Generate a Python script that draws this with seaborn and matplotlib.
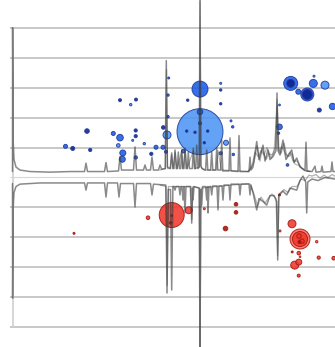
import numpy as np
import pandas as pd
import matplotlib
matplotlib.use("Agg")
import matplotlib.pyplot as plt
import seaborn as sns

# ---------------- data ----------------
# upper (positive) spectrum trace
top_x = [12.5, 12.6, 13.2, 14, 16, 20, 30, 50, 70, 84.5, 86, 87.5, 104.5, 106, 107.5, 118.5, 120, 121.5,
         133.5, 135, 136.5, 143.5, 145, 146.5, 150.5, 152, 153.5, 158.5, 160, 161.5, 165.2, 166.3, 167.4,
         170.5, 171.7, 173, 174, 175, 176.3, 177.3, 178.3, 179.5, 180.7, 181.7, 182.8, 184, 185, 186.2,
         187.3, 188.3, 189.5, 192.3, 193.3, 194.5, 195.7, 196.7, 198, 199.2, 200, 200.8, 202, 205.6, 206.7,
         207.8, 210.6, 211.7, 212.8, 215.6, 216.7, 217.8, 220.6, 221.7, 222.8, 229, 230, 231, 238, 239, 240,
         249, 250, 251, 253, 256.7, 259, 263, 265, 268, 270, 273, 276, 277, 278, 280, 283, 286, 291.7, 294,
         296.7, 300, 305, 306, 307, 312, 315, 316, 321, 322, 323, 331, 332, 333, 335]
top_y = [0.2, 5.0, 1.2, 0.6, 0.35, 0.25, 0.2, 0.18, 0.2, 0.2, 0.48, 0.2, 0.2, 0.5, 0.2, 0.22, 0.7, 0.25,
         0.25, 1.02, 0.25, 0.25, 0.42, 0.25, 0.25, 0.68, 0.25, 0.25, 0.42, 0.28, 0.3, 3.9, 0.35,
         0.3, 0.82, 0.3, 0.3, 0.92, 0.3, 0.3, 0.85, 0.3, 0.3, 0.92, 0.3, 0.3, 0.98, 0.3,
         0.3, 0.85, 0.3, 0.3, 0.98, 0.3, 0.3, 1.08, 0.3, 0.35, 5.9, 0.4, 0.3, 0.25, 0.92,
         0.25, 0.25, 0.85, 0.25, 0.25, 0.98, 0.25, 0.25, 1.25, 0.22, 0.22, 1.32, 0.22, 0.2, 1.4, 0.2,
         0.2, 0.68, 0.25, 0.35, 1.2, 0.6, 1.08, 0.55, 0.92, 0.6, 0.7, 0.9, 2.82, 0.9, 0.75, 1.25, 0.6, 0.92, 0.5,
         0.65, 0.35, 0.25, 1.18, 0.22, 0.2, 0.38, 0.18, 0.2, 0.38, 0.18, 0.2, 0.52, 0.2, 0.2]
# replicate traces (upper)
top2_x = [160, 165.5, 166.5, 167.5, 170, 171.5, 173, 175.2, 177, 181.5, 183, 185.3, 187, 193.5, 195, 199.3, 200.1, 201, 204,
          216.5, 218, 221.5, 223, 248, 250, 254, 257, 260, 262, 266, 269, 272, 275.5, 277, 278.5, 281, 284, 287,
          290, 293, 297, 302, 305, 310]
top2_y = [0.25, 0.3, 3.6, 0.3, 0.3, 0.75, 0.3, 0.85, 0.3, 0.85, 0.3, 0.9, 0.3, 0.9, 0.3, 0.35, 5.9, 0.35, 0.25,
          0.25, 0.9, 0.25, 0.25, 0.2, 0.25, 0.5, 1.05, 0.55, 0.95, 0.6, 0.8, 0.75, 1.0, 2.6, 1.0, 0.8, 1.15, 0.7,
          0.85, 0.55, 0.55, 0.3, 0.22, 0.2]
top3_x = [248, 252, 255, 258, 261, 264, 267, 271, 274, 277.3, 279, 282, 285, 289, 292, 295, 299, 304, 310]
top3_y = [0.2, 0.4, 0.85, 0.7, 0.9, 0.75, 1.0, 0.65, 0.85, 2.4, 0.85, 1.05, 0.8, 0.7, 0.8, 0.45, 0.4, 0.25, 0.2]

# lower (mirrored) spectrum trace
bot_x = [12.5, 12.6, 13.2, 14, 16, 20, 40, 84.5, 86, 87.5, 104.5, 106, 107.5, 117.5, 119, 120.5, 133.5, 135,
         136.5, 150.5, 152, 153.5, 165.8, 167, 168.2, 170.5, 171.7, 172.9, 174, 175, 176, 179, 180, 181, 182,
         183, 184, 185, 186, 190.7, 191.7, 192.5, 193, 194, 199.2, 200, 200.8, 201.7, 202.7, 205.7, 206.7,
         207.5, 208, 209, 210.7, 211.7, 212.7, 217, 218, 219, 222, 223, 224, 229, 230, 231, 239, 240, 241,
         249, 250, 251, 253, 256.7, 259, 263, 266.7, 270, 274, 276.7, 277.7, 278.7, 283, 286.7, 290, 296.7,
         300, 303, 305.7, 306.7, 307.7, 312, 318, 325, 335]
bot_y = [-0.2, -4.02, -1.0, -0.5, -0.3, -0.22, -0.18, -0.18, -0.42, -0.18, -0.18, -0.65, -0.18, -0.18, -0.65, -0.2, -0.2, -0.98,
         -0.2, -0.2, -0.58, -0.22, -0.25, -3.85, -0.4, -0.4, -3.75, -0.3, -0.3, -0.42, -0.3, -0.3, -0.58, -0.3, -0.3,
         -0.75, -0.3, -1.18, -0.3, -0.3, -1.52, -0.35, -0.75, -0.3, -0.35, -5.8, -0.4, -0.92, -0.3, -0.3, -0.75,
         -0.3, -1.18, -0.3, -0.3, -0.58, -0.28, -0.28, -1.08, -0.28, -0.28, -0.75, -0.25, -0.25, -0.75, -0.22, -0.22, -0.58, -0.22,
         -0.22, -0.58, -0.25, -0.5, -1.08, -0.7, -0.8, -0.92, -0.6, -0.6, -0.8, -2.75, -0.6, -0.45, -0.58, -0.35, -0.42,
         -0.1, 0.05, -0.15, -1.18, -0.15, -0.05, -0.1, 0.0, -0.05]
bot2_x = [160, 166, 167.2, 168.4, 190, 191.9, 193, 199.3, 200.1, 201, 248, 250, 254, 257.5, 261, 265, 268, 272, 276,
          277.7, 279, 284, 288, 292, 297, 301, 305, 309, 312, 316, 320, 324, 328, 332, 335]
bot2_y = [-0.25, -0.3, -3.6, -0.3, -0.3, -1.4, -0.3, -0.35, -5.8, -0.35, -0.2, -0.22, -0.55, -0.95, -0.65, -0.85, -0.7,
          -0.55, -0.7, -2.6, -0.55, -0.4, -0.5, -0.3, -0.3, -0.05, -0.1, 0.08, 0.05, 0.1, -0.02, 0.08, 0.0, 0.1, 0.05]

# upper bubbles (blue)
blue_x = [120, 130.7, 136, 87, 113.3, 120, 135.7, 135.7, 132.7, 118.3, 144.3, 156, 163, 65.5, 72.7, 90.2,
          122.8, 122.3, 135.8, 151.3, 163.3, 167, 166, 168.7, 168, 168, 200, 200, 200, 200, 186.7, 195,
          207.7, 204.3, 220.7, 220.7, 187.7, 220.7, 231, 232.7, 226, 220.7, 183.3, 233.3,
          290.7, 290.7, 307.3, 307.3, 313.3, 325, 298.3, 314, 319.3, 332.5, 279.5, 279.5, 287.5, 278.5]
blue_y = [2.58, 2.43, 2.6, 1.55, 1.47, 1.33, 1.57, 1.38, 1.24, 1.07, 1.13, 1.01, 1.01, 1.04, 0.97, 0.92,
          0.82, 0.61, 0.67, 0.79, 1.67, 1.42, 0.86, 3.32, 2.75, 2.03, 2.95, 2.19, 1.53, 1.81, 1.55, 1.51,
          1.55, 1.16, 3.14, 2.92, 2.58, 2.46, 1.89, 1.69, 1.16, 0.81, 0.88, 0.77,
          3.14, 3.14, 2.77, 2.77, 3.14, 3.08, 2.86, 3.38, 2.25, 2.37, 1.69, 2.42, 0.42, 1.48]
blue_r = [1.5, 1.2, 1.5, 2.3, 2.0, 3.3, 1.6, 1.6, 1.0, 1.8, 1.2, 2.0, 2.0, 2.0, 2.0, 1.6,
          3.0, 3.0, 1.6, 1.6, 1.8, 4.0, 1.5, 1.0, 1.2, 1.2, 8.0, 2.8, 23.0, 1.5, 1.2, 1.2,
          1.2, 1.2, 1.0, 1.2, 1.2, 1.2, 1.0, 1.2, 2.5, 1.6, 1.8, 1.2,
          7.0, 4.0, 6.5, 5.0, 4.0, 4.0, 2.5, 1.0, 2.0, 3.2, 2.8, 0.9, 1.3, 1.2]
blue_cat = ["dark", "light", "dark", "dark", "mid", "mid", "dark", "dark", "light", "light", "light", "mid", "mid", "mid", "dark", "dark",
            "mid", "mid", "mid", "dark", "dark", "light", "mid", "mid", "mid", "mid", "mid", "mid", "light", "mid", "dark", "dark",
            "dark", "dark", "light", "dark", "dark", "dark", "mid", "mid", "light", "mid", "mid", "mid",
            "mid", "dark", "mid", "dark", "mid", "light", "mid", "light", "dark", "mid", "mid", "light", "mid", "mid"]

# lower bubbles (red)
red_x = [171.7, 171.7, 170.7, 188.8, 148, 204.3, 236, 236, 225.5, 74, 292, 300, 300, 299, 302, 299.5,
         292.2, 298.8, 300, 294.7, 298.8, 298.7, 318.7, 316.7, 333.7, 280, 279.5]
red_y = [-1.25, -1.27, -1.51, -1.09, -1.34, -1.04, -0.89, -1.16, -1.70, -1.86, -1.54, -2.05, -2.05, -1.95, -2.12, -2.15,
         -2.48, -2.52, -2.64, -2.92, -2.82, -3.27, -2.67, -2.14, -2.69, -1.78, -0.58]
red_r = [12.5, 1.0, 1.3, 3.5, 1.8, 1.0, 1.8, 1.8, 2.3, 1.0, 4.0, 10.0, 7.5, 2.2, 2.2, 1.6,
         1.0, 1.8, 0.8, 4.0, 3.0, 1.5, 1.6, 1.2, 1.8, 1.0, 1.0]
red_cat = ["mid", "dark", "dark", "mid", "mid", "light", "dark", "dark", "dark", "dark", "mid", "light", "mid", "mid", "mid", "dark",
           "dark", "mid", "light", "mid", "mid", "mid", "mid", "light", "mid", "light", "dark"]

grid_levels = [1, 2, 3, 4, 5]

# ---------------- plotting ----------------
sns.set_theme(style="white")
fig = plt.figure(figsize=(3.35, 3.47), dpi=100)
ax = fig.add_axes([0, 0, 1, 1])
ax.set_xlim(0, 335)
ax.set_ylim(-5.65, 5.92)
ax.axis("off")

for g in grid_levels:
    for sgn in (1, -1):
        ax.hlines(sgn * (g - 0.017), 9.5, 335, color="#c4c4c4", lw=1.3, zorder=0)
ax.vlines(12.5, -4.983, 4.983, color="#cfcfcf", lw=1.2, zorder=0)
ax.hlines(0.02, 9.5, 335, color="#d6d6d6", lw=0.8, zorder=0)

blue_pal = {"dark": "#0e1f8c", "mid": "#1c5ce8", "light": "#4f95f5"}
red_pal = {"dark": "#9a1510", "mid": "#f0392c", "light": "#ff6a5c"}

dfb = pd.DataFrame({"x": blue_x, "y": blue_y, "area": np.array(blue_r) ** 2, "cat": blue_cat})
dfb = dfb.sort_values("area", ascending=False)
dfr = pd.DataFrame({"x": red_x, "y": red_y, "area": np.array(red_r) ** 2, "cat": red_cat})
dfr = dfr.sort_values("area", ascending=False)
amax = max(dfb["area"].max(), dfr["area"].max())

sns.scatterplot(data=dfb, x="x", y="y", size="area", hue="cat", palette=blue_pal,
                sizes=(0, 2.07 * amax), size_norm=(0, amax), alpha=0.88,
                edgecolor="#1d3a9a", linewidth=0.7, legend=False, ax=ax, zorder=2)
sns.scatterplot(data=dfr, x="x", y="y", size="area", hue="cat", palette=red_pal,
                sizes=(0, 2.07 * amax), size_norm=(0, amax), alpha=0.88,
                edgecolor="#a3180f", linewidth=0.7, legend=False, ax=ax, zorder=2)

line_kw = dict(sort=False, estimator=None, color="#3c3c3c", ax=ax, zorder=3)
sns.lineplot(x=top_x, y=top_y, lw=1.1, alpha=0.6, **line_kw)
sns.lineplot(x=top2_x, y=top2_y, lw=0.9, alpha=0.4, **line_kw)
sns.lineplot(x=top3_x, y=top3_y, lw=0.9, alpha=0.35, **line_kw)
sns.lineplot(x=bot_x, y=bot_y, lw=1.1, alpha=0.6, **line_kw)
sns.lineplot(x=bot2_x, y=bot2_y, lw=0.9, alpha=0.4, **line_kw)

fig.savefig("out.png", dpi=100)
